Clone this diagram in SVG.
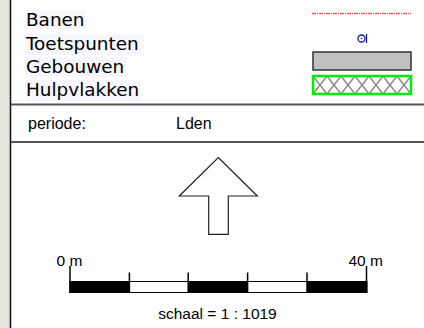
<svg xmlns="http://www.w3.org/2000/svg" width="424" height="328" viewBox="0 0 424 328">
<defs>
<pattern id="hatch" patternUnits="userSpaceOnUse" x="313" y="76" width="14" height="18">
<path d="M0,0 L14,18 M14,0 L0,18" stroke="#8a8a8a" stroke-width="1.5" fill="none"/>
</pattern>
<style>
.leg{font-family:"DejaVu Sans",Verdana,sans-serif;font-size:18.4px;fill:#000}
.sm{font-family:"Liberation Sans",Arial,sans-serif;font-size:16px;fill:#000}
.sc{font-family:"Liberation Sans",Arial,sans-serif;font-size:15.5px;fill:#000}
.sep{stroke:#555;stroke-width:2}
</style>
</defs>
<rect x="0" y="0" width="424" height="328" fill="#fff"/>
<rect x="0" y="0" width="10" height="328" fill="#e6e3dd"/>
<line x1="10.5" y1="0" x2="10.5" y2="328" stroke="#111" stroke-width="1.5"/>
<g id="legend">
<rect x="25" y="10" width="60" height="19" fill="#f6f6fc"/>
<rect x="25" y="34" width="119" height="21" fill="#f6f6fc"/>
<rect x="25" y="57" width="101" height="20" fill="#f6f6fc"/>
<rect x="25" y="80" width="115" height="21" fill="#f6f6fc"/>
<text class="leg" x="26" y="26">Banen</text>
<text class="leg" x="26" y="50">Toetspunten</text>
<text class="leg" x="26" y="73">Gebouwen</text>
<text class="leg" x="26" y="96">Hulpvlakken</text>
</g>
<g id="sym-banen">
<line x1="312" y1="13.5" x2="411" y2="13.5" stroke="#ff5a5a" stroke-width="1.5" stroke-dasharray="4,1,1,1"/>
</g>
<g id="sym-toetspunten" stroke="#1a1aa8" fill="none">
<circle cx="361.5" cy="38.5" r="3.5" stroke-width="1.3"/>
<circle cx="361.5" cy="38.5" r="0.8" fill="#1a1aa8" stroke="none"/>
<line x1="366.5" y1="34" x2="366.5" y2="43" stroke-width="1.3"/>
</g>
<g id="sym-gebouwen">
<rect x="313" y="52" width="98" height="18" fill="#c0c0c0" stroke="#333" stroke-width="1.5"/>
</g>
<g id="sym-hulpvlakken">
<rect x="313" y="76" width="98" height="18" fill="url(#hatch)" stroke="#00ee00" stroke-width="2.5"/>
</g>
<line class="sep" x1="11" y1="104.5" x2="424" y2="104.5"/>
<g id="periode">
<text class="sm" x="28" y="128.5">periode:</text>
<text class="sm" x="176" y="128.5">Lden</text>
</g>
<line class="sep" x1="11" y1="142" x2="424" y2="142"/>
<g id="north-arrow">
<path d="M218.3,157.5 L257.3,196 L228.3,196 L228.3,234.3 L208.7,234.3 L208.7,196 L179.3,196 Z" fill="#fff" stroke="#222" stroke-width="1.2"/>
</g>
<g id="scalebar">
<rect x="70" y="281.5" width="297" height="11" fill="#fff" stroke="#000" stroke-width="1"/>
<rect x="70" y="281" width="59.4" height="12" fill="#000"/>
<rect x="188.2" y="281" width="59.4" height="12" fill="#000"/>
<rect x="307" y="281" width="60" height="12" fill="#000"/>
<g stroke="#000" stroke-width="1.5">
<line x1="70" y1="266" x2="70" y2="293"/>
<line x1="129.4" y1="272.5" x2="129.4" y2="293"/>
<line x1="188.2" y1="272.5" x2="188.2" y2="293"/>
<line x1="247.6" y1="272.5" x2="247.6" y2="293"/>
<line x1="307" y1="272.5" x2="307" y2="293"/>
<line x1="366.5" y1="266" x2="366.5" y2="293"/>
</g>
<text class="sc" x="56.5" y="266">0 m</text>
<text class="sc" x="348.5" y="265.5">40 m</text>
<text class="sc" x="217.5" y="319" text-anchor="middle">schaal = 1 : 1019</text>
</g>
</svg>
